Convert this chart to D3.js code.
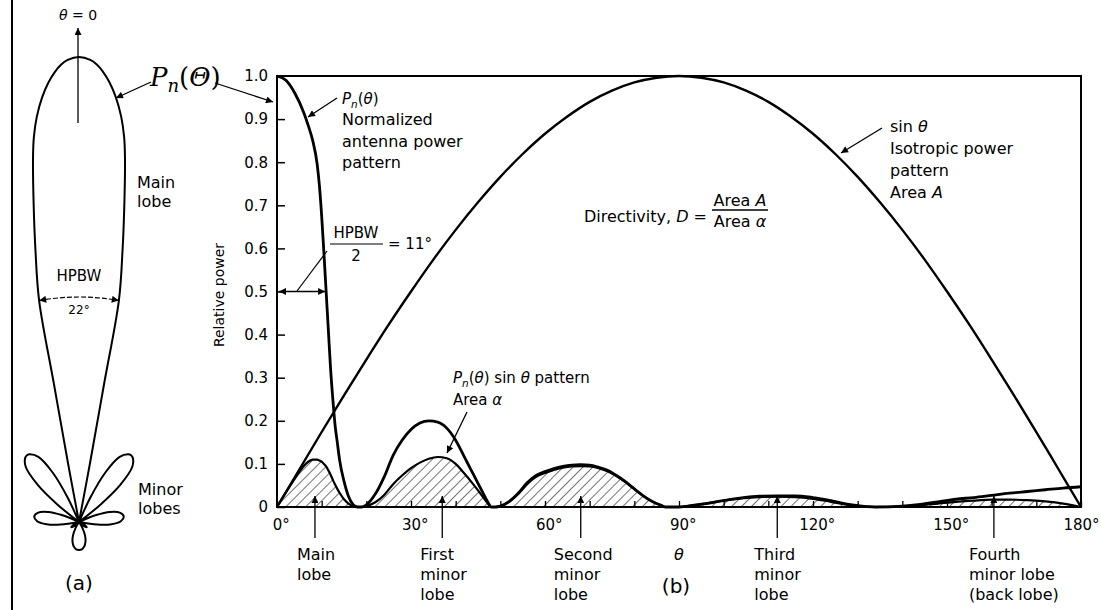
<!DOCTYPE html>
<html>
<head>
<meta charset="utf-8">
<script src="https://cdn.jsdelivr.net/npm/d3@7"></script>
<style>
  body { margin: 0; background: #fff; }
  svg { display: block; font-family: "DejaVu Sans", sans-serif; }
  .curve { fill: none; stroke: #000; }
</style>
</head>
<body>
<div id="vis"></div>
<script>
const FRAME_WIDTH = 1101;
const FRAME_HEIGHT = 610;
const PLOT = {left: 277, right: 1081, top: 76, bottom: 507};

// ---- data ----
// normalized power pattern Pn(theta) and Pn(theta)*sin(theta), same theta grid
const PN_THETA = [0, 2, 4, 6, 7, 8, 9, 9.5, 10, 10.5, 11, 11.5, 12, 12.5, 13, 13.5, 14, 15, 16, 17, 18, 19,
  20, 22, 24, 26, 28, 30, 32, 34, 36, 38, 40, 42, 44, 46, 47, 48,
  49, 50, 52, 54, 56, 58, 60, 62, 64, 66, 68, 70, 72, 74, 76, 78, 80, 82, 84, 86, 87,
  88, 90, 92, 96, 100, 104, 108, 112, 116, 120, 124, 128, 132, 134,
  140, 144, 148, 152, 156, 160, 164, 168, 172, 176, 180];
const PN_VALUES = [1, .99, .96, .915, .885, .85, .795, .745, .675, .59, .5, .41, .32, .25, .19, .15, .11, .06, .025, .006, 0, 0,
  .005, .03, .07, .12, .155, .18, .195, .2, .197, .183, .155, .115, .075, .035, .015, 0,
  0, .002, .013, .032, .056, .073, .082, .089, .094, .097, .098, .097, .092, .085, .073, .059, .042, .026, .013, .004, 0,
  0, 0, .002, .008, .015, .021, .025, .026, .026, .022, .015, .006, .001, 0,
  .002, .006, .012, .018, .022, .027, .032, .036, .04, .044, .047];
const PNSIN_VALUES = [0, .034, .066, .095, .105, .11, .11, .108, .105, .1, .094, .085, .075, .063, .052, .042, .033, .018, .008, .002, 0, 0,
  .002, .011, .028, .053, .073, .09, .103, .112, .116, .113, .1, .077, .052, .025, .011, 0,
  0, .002, .012, .03, .053, .07, .079, .086, .091, .094, .095, .094, .09, .083, .072, .058, .042, .026, .013, .004, 0,
  0, 0, .002, .008, .015, .02, .023, .024, .023, .019, .012, .005, .001, 0,
  .001, .004, .008, .012, .015, .017, .017, .016, .013, .008, 0];

// isotropic pattern sin(theta)
const SIN_THETA = [0, 5, 10, 15, 20, 25, 30, 35, 40, 45, 50, 55, 60, 65, 70, 75, 80, 85, 90,
  95, 100, 105, 110, 115, 120, 125, 130, 135, 140, 145, 150, 155, 160, 165, 170, 175, 180];
const SIN_VALUES = [0, .087, .174, .259, .342, .423, .5, .574, .643, .707, .766, .819, .866, .906, .94, .966, .985, .996, 1,
  .996, .985, .966, .94, .906, .866, .819, .766, .707, .643, .574, .5, .423, .342, .259, .174, .087, 0];

// polar sketch (a), right half, mirrored for the left half
const POLAR_ANGLE = [0, 1.4, 2.26, 3.08, 3.96, 4.95, 5.95, 6.68, 7.18, 8.04, 9.09, 10.2, 10.3, 10.6, 11.2,
  22, 25, 28, 32, 36, 38, 40, 44, 48, 51, 54,
  64, 68, 72, 77, 83, 89, 94, 98, 102,
  108, 116, 124, 132, 140,
  144, 150, 156, 162, 168, 174, 180];
const POLAR_GAIN = [1, .994, .984, .969, .948, .917, .876, .834, .791, .699, .593, .485, .301, .129, 0,
  0, .06, .12, .165, .18, .182, .18, .165, .12, .06, 0,
  0, .04, .07, .09, .097, .09, .07, .04, 0,
  0, .012, .02, .012, 0,
  0, .015, .032, .045, .054, .059, .06];

const Y_TICKS = [0, .1, .2, .3, .4, .5, .6, .7, .8, .9, 1.0];
const Y_TICK_LABELS = ["0", "0.1", "0.2", "0.3", "0.4", "0.5", "0.6", "0.7", "0.8", "0.9", "1.0"];
const X_TICKS = [0, 10, 20, 30, 40, 50, 60, 70, 80, 90, 100, 110, 120, 130, 140, 150, 160, 170, 180];
const X_LABELLED = [0, 30, 60, 90, 120, 150, 180];

const LOBE_PEAKS = [8.5, 37, 68, 112, 160.5];
const LOBE_LABELS = [["Main", "lobe"], ["First", "minor", "lobe"], ["Second", "minor", "lobe"],
  ["Third", "minor", "lobe"], ["Fourth", "minor lobe", "(back lobe)"]];
const LOBE_LABEL_DX = [-18, -22, -27, -23, -25];

const HALF_BEAMWIDTH = 11;

// ---- frame ----
const svg = d3.select("#vis").append("svg")
  .attr("width", FRAME_WIDTH)
  .attr("height", FRAME_HEIGHT);

const defs = svg.append("defs");
defs.append("marker")
  .attr("id", "arrow")
  .attr("viewBox", "0 0 10 10")
  .attr("refX", 10).attr("refY", 5)
  .attr("markerUnits", "userSpaceOnUse")
  .attr("markerWidth", 9).attr("markerHeight", 7)
  .attr("orient", "auto-start-reverse")
  .append("path").attr("d", "M0,0 L10,5 L0,10 z").attr("fill", "#000");

defs.append("pattern")
  .attr("id", "hatch")
  .attr("patternUnits", "userSpaceOnUse")
  .attr("width", 7).attr("height", 7)
  .attr("patternTransform", "rotate(45)")
  .append("line")
    .attr("x1", 0).attr("y1", 0).attr("x2", 0).attr("y2", 7)
    .attr("stroke", "#000").attr("stroke-width", 1.1);

// helper for text with italic / subscript pieces: parts = [[text, "i"|"sub"|"up"|""], ...]
function rich(g, x, y, parts, size, anchor) {
  const t = g.append("text")
    .attr("x", x).attr("y", y)
    .attr("font-size", size)
    .attr("text-anchor", anchor || "start");
  parts.forEach(p => {
    const s = t.append("tspan").text(p[0]);
    if (p[1] === "i") s.attr("font-style", "italic");
    if (p[1] === "sub") s.attr("font-style", "italic").attr("font-size", size * 0.7).attr("dy", size * 0.25);
    if (p[1] === "up") s.attr("dy", -size * 0.25);
  });
  return t;
}

function arrowLine(x1, y1, x2, y2, both) {
  const l = svg.append("line")
    .attr("x1", x1).attr("y1", y1).attr("x2", x2).attr("y2", y2)
    .attr("stroke", "#000").attr("stroke-width", 1.3)
    .attr("marker-end", "url(#arrow)");
  if (both) l.attr("marker-start", "url(#arrow)");
  return l;
}

/* ======== (a) polar sketch ======== */
svg.append("line")
  .attr("x1", 12).attr("y1", 0).attr("x2", 12).attr("y2", FRAME_HEIGHT)
  .attr("stroke", "#000").attr("stroke-width", 2);

const POLAR_CENTER = {x: 79, y: 522};
const R_SCALE = d3.scaleLinear().domain([0, 1]).range([0, 465]);

const polarPts = [];
POLAR_ANGLE.forEach((a, i) => polarPts.push([a * Math.PI / 180, R_SCALE(POLAR_GAIN[i])]));
for (let i = POLAR_ANGLE.length - 2; i > 0; i--) {
  polarPts.push([-POLAR_ANGLE[i] * Math.PI / 180, R_SCALE(POLAR_GAIN[i])]);
}

const polarG = svg.append("g")
  .attr("transform", "translate(" + POLAR_CENTER.x + "," + POLAR_CENTER.y + ")");

polarG.append("path")
  .datum(polarPts)
  .attr("class", "curve")
  .attr("stroke-width", 2)
  .attr("d", d3.lineRadial().angle(d => d[0]).radius(d => d[1]).curve(d3.curveCatmullRomClosed.alpha(0.5)));

// HPBW arc
const arcR = 225;
const hb = (HALF_BEAMWIDTH - 0.8) * Math.PI / 180;
const arcPath = d3.path();
arcPath.arc(0, 0, arcR, -Math.PI / 2 - hb, -Math.PI / 2 + hb);
polarG.append("path")
  .attr("d", arcPath.toString())
  .attr("fill", "none").attr("stroke", "#000").attr("stroke-width", 1.2)
  .attr("stroke-dasharray", "5,2")
  .attr("marker-start", "url(#arrow)")
  .attr("marker-end", "url(#arrow)");

svg.append("text").attr("x", POLAR_CENTER.x).attr("y", 281).attr("text-anchor", "middle")
  .attr("font-size", 15).text("HPBW");
svg.append("text").attr("x", POLAR_CENTER.x).attr("y", 314).attr("text-anchor", "middle")
  .attr("font-size", 12).text("22°");

// theta = 0 arrow
arrowLine(POLAR_CENTER.x - 1, 123, POLAR_CENTER.x - 1, 28);
rich(svg, POLAR_CENTER.x - 1, 20, [["θ", "i"], [" = 0", ""]], 14, "middle");

svg.append("text").attr("x", 137).attr("y", 188).attr("font-size", 16).text("Main");
svg.append("text").attr("x", 137).attr("y", 207).attr("font-size", 16).text("lobe");
svg.append("text").attr("x", 138).attr("y", 495).attr("font-size", 16).text("Minor");
svg.append("text").attr("x", 138).attr("y", 514).attr("font-size", 16).text("lobes");
svg.append("text").attr("x", 79).attr("y", 590).attr("text-anchor", "middle")
  .attr("font-size", 20).text("(a)");

// big Pn(Theta) label
const bigP = svg.append("text").attr("x", 150).attr("y", 86)
  .attr("font-family", "'DejaVu Serif', serif").attr("font-size", 26);
bigP.append("tspan").attr("font-style", "italic").text("P");
bigP.append("tspan").attr("font-style", "italic").attr("font-size", 18).attr("dy", 6).text("n");
bigP.append("tspan").attr("dy", -6).text("(");
bigP.append("tspan").attr("font-style", "italic").text("Θ");
bigP.append("tspan").text(")");
arrowLine(151, 82, 116, 98);
arrowLine(215, 83, 273, 102);

/* ======== (b) rectangular plot ======== */
const X_SCALE = d3.scaleLinear().domain([0, 180]).range([PLOT.left, PLOT.right]);
const Y_SCALE = d3.scaleLinear().domain([0, 1]).range([PLOT.bottom, PLOT.top]);

const pnData = PN_THETA.map((t, i) => ({t: t, pn: PN_VALUES[i], ps: PNSIN_VALUES[i]}));
const sinData = SIN_THETA.map((t, i) => ({t: t, v: SIN_VALUES[i]}));

// hatched Pn sin(theta) area
svg.append("path")
  .datum(pnData)
  .attr("fill", "url(#hatch)")
  .attr("d", d3.area().x(d => X_SCALE(d.t)).y0(PLOT.bottom).y1(d => Y_SCALE(d.ps)).curve(d3.curveMonotoneX));

svg.append("path")
  .datum(pnData)
  .attr("class", "curve").attr("stroke-width", 2.2)
  .attr("d", d3.line().x(d => X_SCALE(d.t)).y(d => Y_SCALE(d.ps)).curve(d3.curveMonotoneX));

// isotropic sin(theta)
svg.append("path")
  .datum(sinData)
  .attr("class", "curve").attr("stroke-width", 2.4)
  .attr("d", d3.line().x(d => X_SCALE(d.t)).y(d => Y_SCALE(d.v)).curve(d3.curveMonotoneX));

// normalized pattern Pn(theta)
svg.append("path")
  .datum(pnData)
  .attr("class", "curve").attr("stroke-width", 2.8)
  .attr("d", d3.line().x(d => X_SCALE(d.t)).y(d => Y_SCALE(d.pn)).curve(d3.curveMonotoneX));

// frame
svg.append("rect")
  .attr("x", PLOT.left).attr("y", PLOT.top)
  .attr("width", PLOT.right - PLOT.left).attr("height", PLOT.bottom - PLOT.top)
  .attr("fill", "none").attr("stroke", "#000").attr("stroke-width", 2);

// y axis, ticks pointing inward
svg.append("g")
  .attr("transform", "translate(" + PLOT.left + ",0)")
  .call(d3.axisLeft(Y_SCALE).tickValues(Y_TICKS).tickSize(-8).tickPadding(9)
    .tickFormat((d, i) => Y_TICK_LABELS[i]))
  .call(g => g.select(".domain").remove())
  .call(g => g.selectAll("line").attr("stroke-width", 1.5))
  .call(g => g.selectAll("text").attr("font-size", 15).attr("font-family", "DejaVu Sans"));

// x axis
svg.append("g")
  .attr("transform", "translate(0," + PLOT.bottom + ")")
  .call(d3.axisBottom(X_SCALE).tickValues(X_TICKS).tickSize(-6).tickPadding(12)
    .tickFormat(d => X_LABELLED.includes(d) ? d + "°" : ""))
  .call(g => g.select(".domain").remove())
  .call(g => g.selectAll("line").attr("stroke-width", 1.3))
  .call(g => g.selectAll("text").attr("font-size", 15).attr("font-family", "DejaVu Sans")
    .attr("dx", d => d === 180 ? "0" : "0.25em"));

svg.append("text")
  .attr("transform", "translate(224,295) rotate(-90)")
  .attr("text-anchor", "middle").attr("font-size", 14)
  .text("Relative power");

// lobe arrows and labels
LOBE_PEAKS.forEach((p, i) => {
  const x = X_SCALE(p);
  arrowLine(x, 538, x, 496);
  LOBE_LABELS[i].forEach((s, j) => {
    svg.append("text").attr("x", x + LOBE_LABEL_DX[i]).attr("y", 560 + j * 20)
      .attr("font-size", 16).text(s);
  });
});
rich(svg, X_SCALE(90), 560, [["θ", "i"]], 16, "middle");
svg.append("text").attr("x", 676).attr("y", 593).attr("text-anchor", "middle")
  .attr("font-size", 20).text("(b)");

// HPBW/2 annotation
arrowLine(X_SCALE(0) + 2, Y_SCALE(0.5), X_SCALE(HALF_BEAMWIDTH) - 1, Y_SCALE(0.5), true);
svg.append("line").attr("x1", 327).attr("y1", 251).attr("x2", 297).attr("y2", 291)
  .attr("stroke", "#000").attr("stroke-width", 1.2);
svg.append("text").attr("x", 356).attr("y", 238).attr("text-anchor", "middle").attr("font-size", 15).text("HPBW");
svg.append("line").attr("x1", 330).attr("y1", 244).attr("x2", 383).attr("y2", 244)
  .attr("stroke", "#000").attr("stroke-width", 1.2);
svg.append("text").attr("x", 356).attr("y", 261).attr("text-anchor", "middle").attr("font-size", 15).text("2");
svg.append("text").attr("x", 388).attr("y", 249).attr("font-size", 15).text("= 11°");

// Pn(theta) label
rich(svg, 342, 104, [["P", "i"], ["n", "sub"], ["(", "up"], ["θ", "i"], [")", ""]], 15);
svg.append("text").attr("x", 342).attr("y", 125).attr("font-size", 16).text("Normalized");
svg.append("text").attr("x", 342).attr("y", 147).attr("font-size", 16).text("antenna power");
svg.append("text").attr("x", 342).attr("y", 168).attr("font-size", 16).text("pattern");
arrowLine(337, 98, 308, 117);

// sin theta label
rich(svg, 890, 132, [["sin ", ""], ["θ", "i"]], 16);
svg.append("text").attr("x", 890).attr("y", 154).attr("font-size", 16).text("Isotropic power");
svg.append("text").attr("x", 890).attr("y", 176).attr("font-size", 16).text("pattern");
rich(svg, 890, 198, [["Area ", ""], ["A", "i"]], 16);
arrowLine(882, 128, 841, 153);

// Pn sin theta label
rich(svg, 453, 383, [["P", "i"], ["n", "sub"], ["(", "up"], ["θ", "i"], [") sin ", ""], ["θ", "i"], [" pattern", ""]], 15);
rich(svg, 453, 405, [["Area ", ""], ["α", "i"]], 15);
arrowLine(467, 412, 447, 453);

// directivity
rich(svg, 707, 222, [["Directivity, ", ""], ["D", "i"], [" =", ""]], 16, "end");
rich(svg, 740, 206, [["Area ", ""], ["A", "i"]], 16, "middle");
svg.append("line").attr("x1", 712).attr("y1", 210).attr("x2", 768).attr("y2", 210)
  .attr("stroke", "#000").attr("stroke-width", 1.3);
rich(svg, 740, 227, [["Area ", ""], ["α", "i"]], 16, "middle");
</script>
</body>
</html>
